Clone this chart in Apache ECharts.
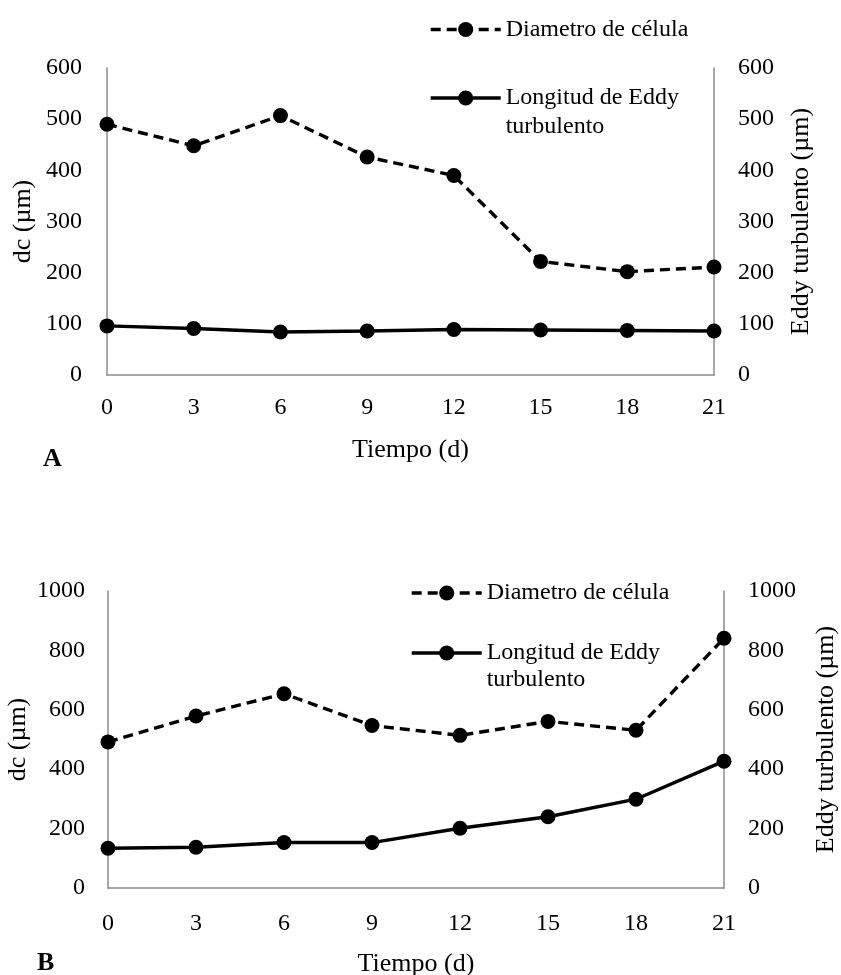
<!DOCTYPE html>
<html>
<head>
<meta charset="utf-8">
<script src="https://cdn.jsdelivr.net/npm/echarts@6/dist/echarts.min.js"></script>
<style>
  html, body { margin: 0; padding: 0; background: #fff; }
  #chart { width: 841px; height: 975px; }
</style>
</head>
<body>
<div id="chart"></div>
<script>
// Sampling days
const days = ['0', '3', '6', '9', '12', '15', '18', '21'];

// Panel A: cell diameter and turbulent Eddy length (µm)
const dcA = [490, 448, 507, 426, 390, 222, 202, 211];
const eddyA = [96, 91, 84, 86, 89, 88, 87, 86];

// Panel B: cell diameter and turbulent Eddy length (µm)
const dcB = [492, 579, 654, 547, 514, 561, 531, 841];
const eddyB = [134, 137, 153, 153, 201, 240, 299, 427];

const FONT = '"Liberation Serif", "Times New Roman", serif';
const AXIS_GRAY = '#8c8c8c';
const NAME_DC = 'Diametro de célula';
const NAME_EDDY = 'Longitud de Eddy\nturbulento';

function xAxisFor(gridIndex, labelMargin, nameGap) {
  return {
    type: 'category', gridIndex: gridIndex, data: days, boundaryGap: false,
    name: 'Tiempo (d)', nameLocation: 'middle', nameGap: nameGap,
    nameTextStyle: { fontFamily: FONT, fontSize: 26, color: '#000' },
    axisLine: { lineStyle: { color: AXIS_GRAY, width: 1.5 } },
    axisTick: { show: false },
    axisLabel: { fontFamily: FONT, fontSize: 24, color: '#000', margin: labelMargin },
    splitLine: { show: false }
  };
}

function yAxisFor(gridIndex, pos, max, interval, name, labelMargin, nameGap) {
  return {
    type: 'value', gridIndex: gridIndex, position: pos, min: 0, max: max, interval: interval,
    name: name, nameLocation: 'middle', nameRotate: 90, nameGap: nameGap,
    nameMoveOverlap: false,
    nameTextStyle: { fontFamily: FONT, fontSize: 26, color: '#000' },
    axisLine: { show: true, lineStyle: { color: AXIS_GRAY, width: 1.5 } },
    axisTick: { show: false },
    axisLabel: {
      fontFamily: FONT, fontSize: 24, color: '#000', margin: labelMargin,
      formatter: function (v) { return String(v); }
    },
    splitLine: { show: false }
  };
}

function lineSeries(name, xi, yi, data, dashed) {
  return {
    name: name, type: 'line', xAxisIndex: xi, yAxisIndex: yi, data: data,
    symbol: 'circle', symbolSize: 15, showSymbol: true,
    lineStyle: { color: '#000', width: 3.4, type: dashed ? [10, 6] : 'solid' },
    itemStyle: { color: '#000' },
    emphasis: { disabled: true },
    animation: false, z: dashed ? 3 : 2
  };
}

// The two-line legend entry gets a blank leading line so that its first
// line sits level with the icon.
function legendAt(name, left, top, lineHeight) {
  return {
    data: [name], left: left, top: top, orient: 'vertical', padding: 0,
    itemWidth: 70, itemHeight: 19, itemGap: 0, selectedMode: false,
    lineStyle: { width: 3.4 },
    formatter: name === NAME_EDDY ? function (n) { return '\n' + n; } : '{name}',
    textStyle: { fontFamily: FONT, fontSize: 24, color: '#000', lineHeight: lineHeight }
  };
}

const chart = echarts.init(document.getElementById('chart'), null, { renderer: 'canvas' });
chart.setOption({
  backgroundColor: '#fff',
  animation: false,
  grid: [
    { left: 107, right: 127, top: 68, height: 307, outerBoundsMode: 'none' },
    { left: 108, right: 117, top: 591, height: 297, outerBoundsMode: 'none' }
  ],
  xAxis: [xAxisFor(0, 21, 62), xAxisFor(1, 24, 63)],
  yAxis: [
    yAxisFor(0, 'left', 600, 100, 'dc (µm)', 25, 71),
    yAxisFor(0, 'right', 600, 100, 'Eddy turbulento (µm)', 24, 74),
    yAxisFor(1, 'left', 1000, 200, 'dc (µm)', 23, 77),
    yAxisFor(1, 'right', 1000, 200, 'Eddy turbulento (µm)', 24, 89)
  ],
  legend: [
    legendAt(NAME_DC, 429, 15, 29),
    legendAt(NAME_EDDY, 429, 54.5, 29),
    legendAt(NAME_DC, 410, 579, 28),
    legendAt(NAME_EDDY, 410, 612.5, 27)
  ],
  graphic: [
    { type: 'text', left: 43, top: 446, style: { text: 'A', font: 'bold 26px ' + FONT, fill: '#000' } },
    { type: 'text', left: 37, top: 950, style: { text: 'B', font: 'bold 26px ' + FONT, fill: '#000' } }
  ],
  series: [
    lineSeries(NAME_DC, 0, 0, dcA, true),
    lineSeries(NAME_EDDY, 0, 1, eddyA, false),
    lineSeries(NAME_DC, 1, 2, dcB, true),
    lineSeries(NAME_EDDY, 1, 3, eddyB, false)
  ]
});
</script>
</body>
</html>
